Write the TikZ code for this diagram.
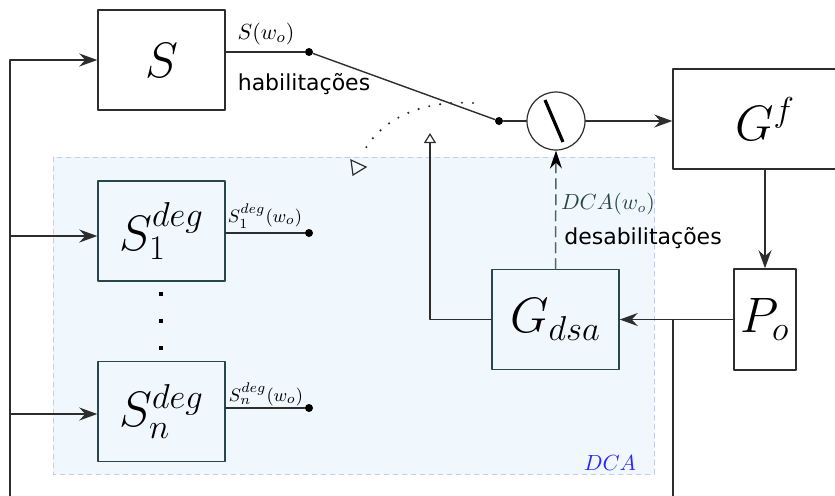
\documentclass[tikz,border=0pt]{standalone}
\usepackage{fontspec}
\setmainfont{DejaVu Sans}
\usetikzlibrary{arrows.meta}

\def\px{0.5pt}
\definecolor{linegray}{RGB}{45,45,45}
\definecolor{slategray}{RGB}{40,70,75}
\definecolor{dashteal}{RGB}{75,105,105}
\definecolor{dcafill}{RGB}{241,248,253}
\definecolor{dcaborder}{RGB}{200,200,250}
\definecolor{dcablue}{RGB}{40,40,250}
\providecommand{\blockLineWidth}{0.75pt}
\providecommand{\wireLineWidth}{0.6pt}

\tikzset{
  block/.style={draw=linegray, line width=\blockLineWidth, inner sep=0pt,
    minimum width=127*\px, minimum height=100*\px, font=\fontsize{23}{28}\selectfont},
  dcablock/.style={block, draw=slategray},
  wire/.style={draw=linegray, line width=\wireLineWidth},
  flow/.style={wire, -{Stealth[length=9pt, width=6.5pt, inset=3pt]}},
  tap/.style={circle, fill=black, inner sep=0pt, minimum size=8*\px},
  lbl/.style={font=\fontsize{11}{13}\selectfont, inner sep=0pt},
  smalllbl/.style={font=\fontsize{9.5}{11}\selectfont, inner sep=0pt}
}

\begin{document}
\begin{tikzpicture}[x=\px, y=-\px, line cap=round, line join=round]
  \clip (0,0) rectangle (835,495);
  % DCA region in the background
  \draw[dcaborder, fill=dcafill, line width=0.5pt, dash pattern=on 2.5pt off 2pt]
    (53,157) rectangle (654,474);
  \node[lbl, text=dcablue] (dcalbl) at (610,463) {$DCA$};

  % Blocks
  \node[block] (S) at (161.5,60) {$S$};
  \node[dcablock] (S1) at (161.5,231) {$S_1^{deg}$};
  \node[dcablock] (Sn) at (161.5,411.5) {$S_n^{deg}$};
  \node[dcablock] (Gdsa) at (555.5,319.5) {$G_{dsa}$};
  \node[block, minimum width=184*\px] (Gf) at (765,119) {$G^f$};
  \node[block, minimum width=62*\px, minimum height=101*\px] (Po) at (765,319.5) {$P_o$};
  \node[circle, draw=linegray, line width=\wireLineWidth, inner sep=0pt,
    minimum size=58*\px] (sw) at (556,121) {};
  \draw[line width=1.6pt, line cap=butt] ([shift={(-11,-21)}]sw.center) -- ([shift={(7,21)}]sw.center);

  % Vertical ellipsis between the degraded supervisors
  \foreach \y in {294,321,348}
    \fill (159,\y-2) rectangle (163,\y+2);

  % Output taps
  \node[tap] (d0) at (309,52) {};
  \node[tap] (d1) at (499,121) {};
  \node[tap] (d2) at (309,233) {};
  \node[tap] (d3) at (309,408) {};

  % Feedback on the left
  \coordinate (fbin) at (10,500);
  \coordinate (j1) at (10,236);
  \coordinate (j2) at (10,414);
  \draw[flow] (fbin) |- (S.west);
  \draw[flow] (j1) -- (j1 -| S1.west);
  \draw[flow] (j2) -- (j2 -| Sn.west);

  % Supervisor outputs and switch
  \draw[wire] (S.east |- d0) -- (d0);
  \draw[wire] (S1.east |- d2) -- (d2);
  \draw[wire] (Sn.east |- d3) -- (d3);
  \draw[wire, line width=0.7pt] (d0) -- (d1);
  \draw[wire] (d1) -- (sw.west);
  \draw[flow] (sw.east) -- (sw.east -| Gf.west);

  % Switch rotation hint
  \draw[linegray, line width=1.2pt, dash pattern=on 0pt off 5.5pt]
    (473,103) .. controls (420,100) and (380,120) .. (363,153);
  \draw[linegray, line width=\wireLineWidth, line join=miter] (351,160) -- (366,167) -- (353,175) -- cycle;

  % Plant, observer and the DCA loop
  \draw[flow] (Po.north |- Gf.south) -- (Po.north);
  \draw[flow] (Po.west) -- (Gdsa.east);
  \coordinate (pobr) at (673,500);
  \draw[wire] (Po.west -| pobr) -- (pobr);
  \coordinate (fbtip) at (430,133);
  \draw[wire, -{Triangle[open, length=5pt, width=6pt]}] (Gdsa.west) -| (fbtip);
  \draw[draw=dashteal, line width=\blockLineWidth, dash pattern=on 5pt off 3pt,
    -{Stealth[length=9pt, width=6pt, inset=3pt, color=black]}] (Gdsa.north) -- (sw.south);

  % Labels
  \node[lbl] (swlbl) at (266,34) {$S(w_o)$};
  \node[lbl] (habil) at (304,84) {habilitações};
  \node[smalllbl] (s1lbl) at (265,216) {$S_1^{deg}(w_o)$};
  \node[smalllbl] (snlbl) at (266,394) {$S_n^{deg}(w_o)$};
  \node[lbl, text=slategray, font=\fontsize{10.5}{13}\selectfont] (dcawlbl) at (608,204) {$DCA(w_o)$};
  \node[lbl] (desab) at (643,238) {desabilitações};
\end{tikzpicture}
\end{document}
